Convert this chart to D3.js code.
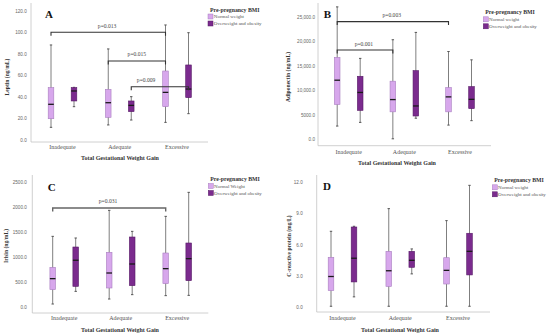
<!DOCTYPE html>
<html lang="en">
<head>
  <meta charset="UTF-8">
  <title>Gestational weight gain box plots</title>
  <style>
    body { margin: 0; background: #fff; }
    svg { display: block; font-family: "Liberation Serif", "DejaVu Serif", serif; }
  </style>
</head>
<body>
  <svg id="chart" width="550" height="336"></svg>

  <script src="https://cdn.jsdelivr.net/npm/d3@7"></script>
  <script>
    // categories and groups
    const categories = ["Inadequate", "Adequate", "Excessive"];
    const groupColors = ["#d7a7ec", "#7b2b8e"];
    const groupStrokes = ["#a97fc0", "#561a66"];

    // five-number summaries [min, q1, median, q3, max] per category
    const leptinNormal = [[11.8, 19.8, 33.2, 48.7, 88.4], [14, 21.1, 34.7, 47.1, 84.7], [16.4, 31, 44.3, 64.2, 107]];
    const leptinOverweight = [[31, 36.3, 45.6, 48.7, 49], [18.6, 26.4, 32.2, 36.3, 40.3], [24.5, 39.4, 47.4, 69.8, 99.8]];

    const adiponectinNormal = [[2700, 7100, 12050, 16700, 27000], [100, 5600, 8100, 11850, 20300], [2900, 5600, 8650, 10550, 17900]];
    const adiponectinOverweight = [[3450, 5900, 9550, 12850, 16500], [4300, 4750, 6800, 14000, 21800], [3800, 6250, 8150, 10750, 16200]];

    const irisinNormal = [[60, 347, 567, 793, 1413], [160, 380, 680, 1093, 1933], [227, 467, 767, 1080, 1813]];
    const irisinOverweight = [[313, 413, 935, 1200, 1380], [247, 427, 860, 1400, 1513], [233, 527, 967, 1280, 2293]];

    const crpNormal = [[0.1, 1.6, 2.95, 4.79, 7.28], [0.1, 2.0, 3.5, 5.36, 9.45], [0.1, 2.23, 3.54, 4.75, 8.3]];
    const crpOverweight = [[1.0, 2.43, 4.7, 7.69, 7.76], [3.2, 3.83, 4.5, 5.36, 5.59], [0.1, 3.1, 5.36, 7.09, 11.68]];

    // tick values and labels
    const leptinTicks = [0, 20, 40, 60, 80, 100, 120];
    const leptinTickLabels = ["0.0", "20.0", "40.0", "60.0", "80.0", "100.0", "120.0"];
    const adiponectinTicks = [0, 5000, 10000, 15000, 20000, 25000];
    const adiponectinTickLabels = ["0.0", "5000.0", "10,000.0", "15,000.0", "20,000.0", "25,000.0"];
    const irisinTicks = [0, 500, 1000, 1500, 2000, 2500];
    const irisinTickLabels = ["0.0", "500.0", "1000.0", "1500.0", "2000.0", "2500.0"];
    const crpTicks = [0, 3, 6, 9, 12];
    const crpTickLabels = ["0.0", "3.0", "6.0", "9.0", "12.0"];

    // significance brackets: [fromCategory, fromGroup, toCategory, toGroup, y value, label, label position]
    const leptinBrackets = [[0, 0, 2, 0, 100.2, "p=0.013", 0.49], [1, 0, 2, 0, 73.5, "p=0.015", 0.5], [1, 1, 2, 1, 49.6, "p=0.009", 0.26]];
    const adiponectinBrackets = [[0, 0, 2, 0, 24000, "p=0.003", 0.49], [0, 0, 1, 0, 18200, "p=0.001", 0.48]];
    const irisinBrackets = [[0, 0, 2, 0, 1980, "p=0.031", 0.49]];
    const crpBrackets = [];

    const xTitle = "Total Gestational Weight Gain";
    const legendTitle = "Pre-pregnancy BMI";

    const panels = [
      { letter: "A", series: [leptinNormal, leptinOverweight], ticks: leptinTicks, tickLabels: leptinTickLabels,
        yTitle: "Leptin (ng/mL)", brackets: leptinBrackets, legend: ["Normal weight", "Overweight and obesity"],
        pos: { axisX: 31, y0: 140, yTop: 11, axisTop: 3, axisY: 142, axisRight: 208, cats: [62.5, 177], tickPad: 4.3,
               catY: 147, titleX: 120, titleY: 158, yTitleX: 7, yTitleY: 77, letterX: 49, letterY: 14, legX: 208, legY: 9.5 } },
      { letter: "B", series: [adiponectinNormal, adiponectinOverweight], ticks: adiponectinTicks, tickLabels: adiponectinTickLabels,
        yTitle: "Adiponectin (ng/mL)", brackets: adiponectinBrackets, legend: ["Normal weight", "Overweight and obesity"],
        pos: { axisX: 318, y0: 139.3, yTop: 16.7, axisTop: 3, axisY: 145.7, axisRight: 491, cats: [348.7, 460], tickPad: 3,
               catY: 151.7, titleX: 397, titleY: 163.3, yTitleX: 288.5, yTitleY: 77, letterX: 327.5, letterY: 14, legX: 483.3, legY: 12.3 } },
      { letter: "C", series: [irisinNormal, irisinOverweight], ticks: irisinTicks, tickLabels: irisinTickLabels,
        yTitle: "Irisin (ng/mL)", brackets: irisinBrackets, legend: ["Normal Weight", "Overweight and obesity"],
        pos: { axisX: 32.3, y0: 307, yTop: 182, axisTop: 175, axisY: 313, axisRight: 208.3, cats: [64.2, 177.2], tickPad: 5.5,
               catY: 318, titleX: 120, titleY: 330.3, yTitleX: 6, yTitleY: 246, letterX: 51.7, letterY: 187.3, legX: 208.3, legY: 179 } },
      { letter: "D", series: [crpNormal, crpOverweight], ticks: crpTicks, tickLabels: crpTickLabels,
        yTitle: "C-reactive protein (mg/L)", brackets: crpBrackets, legend: ["Normal weight", "Overweight and obesity"],
        pos: { axisX: 316.7, y0: 307.3, yTop: 182, axisTop: 175, axisY: 312, axisRight: 490, cats: [342.5, 458], tickPad: 14,
               catY: 318, titleX: 400, titleY: 330.3, yTitleX: 289, yTitleY: 246, letterX: 327, letterY: 186.5, legX: 492.3, legY: 180.3 } }
    ];

    const svg = d3.select("#chart");
    const groupOffset = 11.5;
    const boxWidth = 5.6;

    function drawPanel(p) {
      const L = p.pos;
      const g = svg.append("g");
      const y = d3.scaleLinear().domain([0, d3.max(p.ticks)]).range([L.y0, L.yTop]);
      const x = d3.scalePoint().domain(categories).range(L.cats);
      const bx = (ci, gi) => x(categories[ci]) + (gi === 0 ? -groupOffset : groupOffset);

      // axis lines
      g.append("line").attr("x1", L.axisX).attr("x2", L.axisX).attr("y1", L.axisTop).attr("y2", L.axisY)
        .attr("stroke", "#c4c4c4").attr("stroke-width", 0.8);
      g.append("line").attr("x1", L.axisX).attr("x2", L.axisRight).attr("y1", L.axisY).attr("y2", L.axisY)
        .attr("stroke", "#c4c4c4").attr("stroke-width", 0.8);

      // y ticks
      const yAxis = d3.axisLeft(y).tickValues(p.ticks).tickSize(0).tickPadding(L.tickPad)
        .tickFormat((d, i) => p.tickLabels[i]);
      const ya = g.append("g").attr("transform", `translate(${L.axisX},0)`).call(yAxis);
      ya.select(".domain").remove();
      ya.selectAll("text").attr("font-size", 4.6).attr("fill", "#666").attr("font-family", null);

      // category labels
      g.selectAll(".cat").data(categories).join("text")
        .attr("x", d => x(d)).attr("y", L.catY).attr("dy", "0.35em")
        .attr("text-anchor", "middle").attr("font-size", 6).attr("fill", "#555").text(d => d);

      // axis titles
      g.append("text").attr("x", L.titleX).attr("y", L.titleY).attr("dy", "0.35em")
        .attr("text-anchor", "middle").attr("font-size", 6).attr("font-weight", "bold").attr("fill", "#333").text(xTitle);
      g.append("text").attr("transform", `translate(${L.yTitleX},${L.yTitleY}) rotate(-90)`).attr("dy", "0.35em")
        .attr("text-anchor", "middle").attr("font-size", 5.6).attr("font-weight", "bold").attr("fill", "#333").text(p.yTitle);

      // panel letter
      g.append("text").attr("x", L.letterX).attr("y", L.letterY).attr("dy", "0.35em")
        .attr("text-anchor", "middle").attr("font-size", 11).attr("font-weight", "bold").attr("fill", "#111").text(p.letter);

      // boxes
      p.series.forEach((s, gi) => {
        const bg = g.append("g");
        const items = s.map((v, ci) => ({ v, cx: bx(ci, gi) }));
        bg.selectAll(".whisker").data(items).join("line")
          .attr("x1", d => d.cx).attr("x2", d => d.cx)
          .attr("y1", d => y(d.v[0])).attr("y2", d => y(d.v[4]))
          .attr("stroke", "#707070").attr("stroke-width", 0.9);
        [0, 4].forEach(k => {
          bg.selectAll(".cap" + k).data(items).join("line")
            .attr("x1", d => d.cx - 1.2).attr("x2", d => d.cx + 1.2)
            .attr("y1", d => y(d.v[k])).attr("y2", d => y(d.v[k]))
            .attr("stroke", "#555").attr("stroke-width", 1);
        });
        bg.selectAll(".box").data(items).join("rect")
          .attr("x", d => d.cx - boxWidth / 2).attr("width", boxWidth)
          .attr("y", d => y(d.v[3])).attr("height", d => y(d.v[1]) - y(d.v[3]))
          .attr("fill", groupColors[gi]).attr("stroke", groupStrokes[gi]).attr("stroke-width", 0.6);
        bg.selectAll(".median").data(items).join("line")
          .attr("x1", d => d.cx - boxWidth / 2).attr("x2", d => d.cx + boxWidth / 2)
          .attr("y1", d => y(d.v[2])).attr("y2", d => y(d.v[2]))
          .attr("stroke", "#1a1a1a").attr("stroke-width", 1.3);
      });

      // significance brackets
      p.brackets.forEach(b => {
        const [c0, g0, c1, g1, v, label, t] = b;
        const x0 = bx(c0, g0), x1 = bx(c1, g1), yy = y(v);
        g.append("path")
          .attr("d", d3.line()([[x0, yy + 3.5], [x0, yy], [x1, yy], [x1, yy + 3.5]]))
          .attr("fill", "none").attr("stroke", p.letter === "C" ? "#666" : "#333")
          .attr("stroke-width", p.letter === "C" ? 1.4 : 1.1);
        g.append("text").attr("x", x0 + (x1 - x0) * t).attr("y", yy - 6.5).attr("dy", "0.35em")
          .attr("text-anchor", "middle").attr("font-size", 5.6).attr("fill", "#444").text(label);
      });

      // legend
      const lg = g.append("g").attr("transform", `translate(${L.legX},${L.legY})`);
      lg.append("text").attr("x", 2).attr("y", 0).attr("dy", "0.35em")
        .attr("font-size", 5.8).attr("font-weight", "bold").attr("fill", "#333").text(legendTitle);
      const items = lg.selectAll(".item").data(p.legend).join("g")
        .attr("transform", (d, i) => `translate(0,${7 + i * 7})`);
      items.append("rect").attr("x", 0).attr("y", -2.5).attr("width", 5).attr("height", 5)
        .attr("fill", (d, i) => groupColors[i]).attr("stroke", (d, i) => groupStrokes[i]).attr("stroke-width", 0.5);
      items.append("text").attr("x", 5.8).attr("y", 0).attr("dy", "0.35em")
        .attr("font-size", 5).attr("fill", "#555").text(d => d);
    }

    panels.forEach(drawPanel);
  </script>
</body>
</html>
